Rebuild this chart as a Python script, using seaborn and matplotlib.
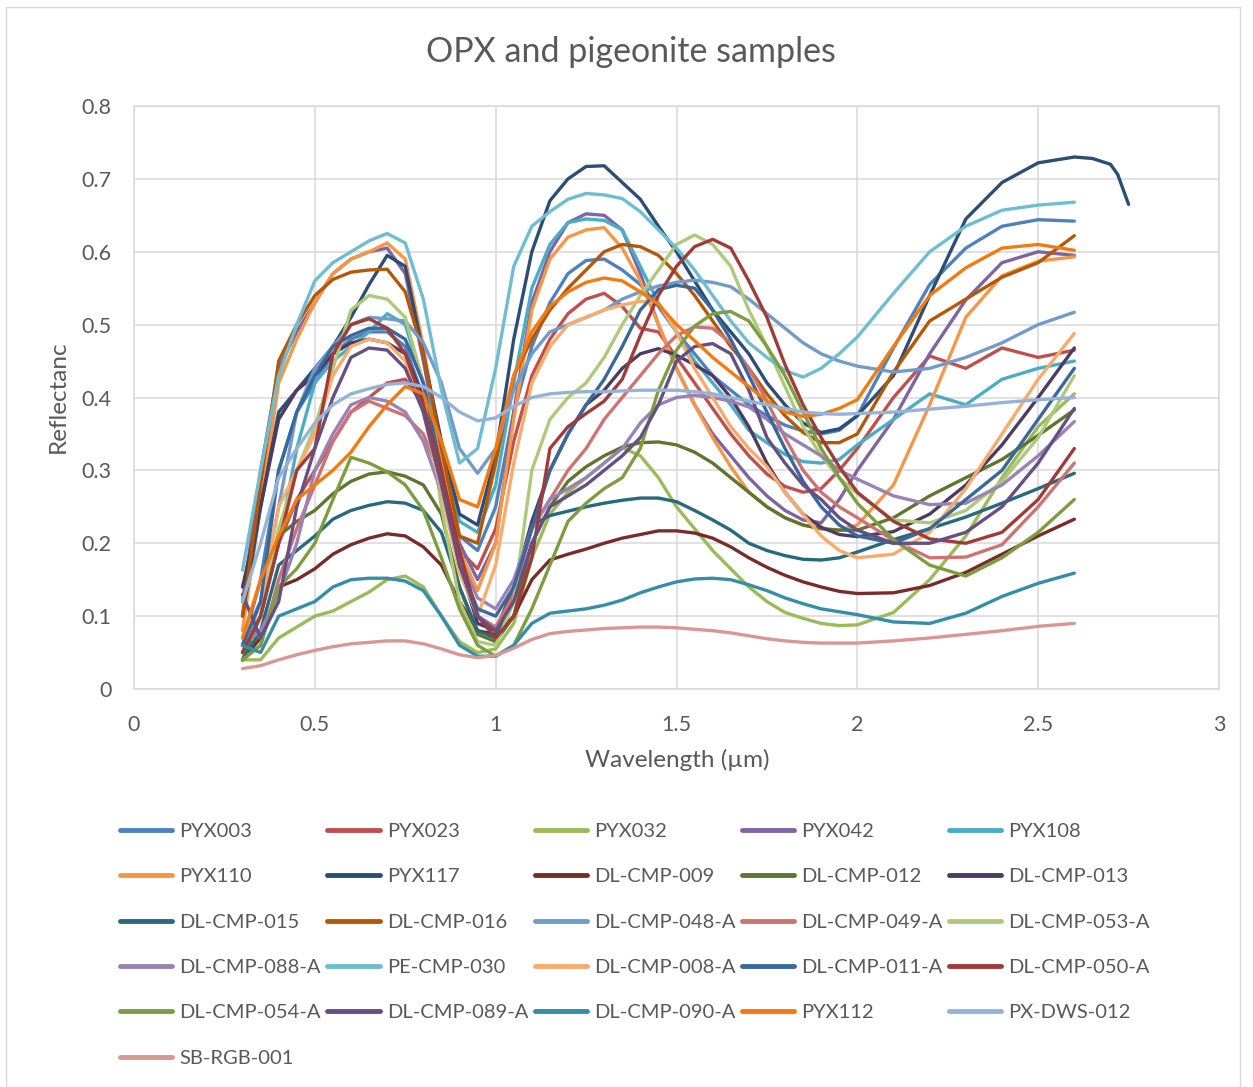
import matplotlib
matplotlib.use("Agg")
import matplotlib.pyplot as plt
import numpy as np
import pandas as pd
import seaborn as sns
from matplotlib.patches import Rectangle

# ---------------- data ----------------
wl = [0.30, 0.35, 0.40, 0.45, 0.50, 0.55, 0.60, 0.65, 0.70, 0.75,
      0.80, 0.85, 0.90, 0.95, 1.00, 1.05, 1.10, 1.15, 1.20, 1.25,
      1.30, 1.35, 1.40, 1.45, 1.50, 1.55, 1.60, 1.65, 1.70, 1.75,
      1.80, 1.85, 1.90, 1.95, 2.00, 2.10, 2.20, 2.30, 2.40, 2.50,
      2.60]
wl_pyx117 = wl + [2.65, 2.70, 2.72, 2.75]

pyx003 = [0.06, 0.15, 0.30, 0.38, 0.42, 0.46, 0.48, 0.49, 0.49, 0.47,
          0.40, 0.30, 0.21, 0.19, 0.25, 0.38, 0.47, 0.53, 0.57, 0.588,
          0.59, 0.575, 0.555, 0.525, 0.49, 0.46, 0.43, 0.41, 0.39, 0.375,
          0.362, 0.354, 0.35, 0.355, 0.375, 0.468, 0.555, 0.605, 0.635, 0.644,
          0.642]
pyx023 = [0.05, 0.10, 0.20, 0.26, 0.30, 0.34, 0.38, 0.40, 0.42, 0.425,
          0.39, 0.30, 0.19, 0.165, 0.22, 0.34, 0.43, 0.48, 0.515, 0.535,
          0.543, 0.525, 0.495, 0.49, 0.455, 0.42, 0.385, 0.35, 0.32, 0.295,
          0.278, 0.27, 0.275, 0.30, 0.33, 0.40, 0.457, 0.44, 0.468, 0.455,
          0.465]
pyx032 = [0.04, 0.04, 0.07, 0.085, 0.10, 0.107, 0.12, 0.133, 0.15, 0.155,
          0.14, 0.10, 0.065, 0.05, 0.055, 0.09, 0.18, 0.24, 0.27, 0.29,
          0.31, 0.331, 0.32, 0.29, 0.25, 0.22, 0.19, 0.165, 0.14, 0.12,
          0.105, 0.097, 0.09, 0.087, 0.088, 0.105, 0.15, 0.21, 0.29, 0.36,
          0.405]
pyx042 = [0.12, 0.30, 0.44, 0.49, 0.53, 0.57, 0.59, 0.60, 0.605, 0.57,
          0.45, 0.32, 0.20, 0.15, 0.20, 0.38, 0.53, 0.60, 0.64, 0.652,
          0.65, 0.63, 0.57, 0.50, 0.44, 0.39, 0.35, 0.32, 0.29, 0.265,
          0.245, 0.232, 0.228, 0.26, 0.30, 0.37, 0.46, 0.534, 0.585, 0.60,
          0.595]
pyx108 = [0.06, 0.10, 0.20, 0.33, 0.42, 0.45, 0.47, 0.49, 0.515, 0.50,
          0.42, 0.33, 0.23, 0.215, 0.28, 0.42, 0.55, 0.61, 0.64, 0.645,
          0.643, 0.63, 0.58, 0.53, 0.49, 0.45, 0.42, 0.39, 0.355, 0.338,
          0.322, 0.312, 0.31, 0.315, 0.335, 0.37, 0.405, 0.39, 0.425, 0.44,
          0.45]
pyx110 = [0.08, 0.25, 0.42, 0.48, 0.53, 0.57, 0.59, 0.60, 0.612, 0.59,
          0.47, 0.32, 0.19, 0.135, 0.20, 0.37, 0.52, 0.59, 0.62, 0.63,
          0.633, 0.605, 0.56, 0.50, 0.44, 0.39, 0.345, 0.305, 0.27, 0.25,
          0.235, 0.225, 0.22, 0.218, 0.225, 0.28, 0.39, 0.51, 0.567, 0.587,
          0.593]
pyx117 = [0.10, 0.25, 0.38, 0.41, 0.44, 0.47, 0.51, 0.555, 0.595, 0.58,
          0.46, 0.34, 0.24, 0.225, 0.32, 0.48, 0.60, 0.67, 0.70, 0.717,
          0.718, 0.695, 0.672, 0.635, 0.60, 0.56, 0.52, 0.49, 0.46, 0.42,
          0.39, 0.365, 0.352, 0.357, 0.375, 0.43, 0.54, 0.645, 0.695, 0.722,
          0.73, 0.728, 0.72, 0.706, 0.665]
dl_cmp_009 = [0.04, 0.07, 0.14, 0.15, 0.165, 0.185, 0.198, 0.207, 0.213, 0.21,
              0.195, 0.17, 0.12, 0.08, 0.075, 0.10, 0.15, 0.177, 0.185, 0.192,
              0.20, 0.207, 0.212, 0.217, 0.217, 0.214, 0.207, 0.195, 0.18, 0.167,
              0.156, 0.147, 0.14, 0.134, 0.131, 0.132, 0.142, 0.16, 0.185, 0.21,
              0.233]
dl_cmp_012 = [0.04, 0.10, 0.21, 0.23, 0.245, 0.268, 0.285, 0.295, 0.298, 0.292,
              0.28, 0.24, 0.14, 0.075, 0.065, 0.10, 0.20, 0.25, 0.285, 0.305,
              0.32, 0.332, 0.338, 0.339, 0.335, 0.325, 0.31, 0.29, 0.27, 0.25,
              0.235, 0.225, 0.22, 0.218, 0.218, 0.235, 0.265, 0.29, 0.315, 0.348,
              0.383]
dl_cmp_013 = [0.14, 0.25, 0.37, 0.41, 0.43, 0.46, 0.475, 0.48, 0.475, 0.46,
              0.40, 0.30, 0.17, 0.09, 0.08, 0.14, 0.23, 0.30, 0.35, 0.39,
              0.41, 0.44, 0.46, 0.467, 0.458, 0.445, 0.43, 0.40, 0.36, 0.31,
              0.27, 0.24, 0.222, 0.212, 0.209, 0.216, 0.24, 0.28, 0.335, 0.40,
              0.468]
dl_cmp_015 = [0.04, 0.08, 0.17, 0.19, 0.21, 0.233, 0.245, 0.252, 0.257, 0.255,
              0.245, 0.215, 0.14, 0.08, 0.07, 0.13, 0.225, 0.238, 0.244, 0.25,
              0.255, 0.259, 0.262, 0.262, 0.257, 0.245, 0.232, 0.218, 0.20, 0.19,
              0.183, 0.178, 0.177, 0.18, 0.188, 0.205, 0.22, 0.236, 0.255, 0.275,
              0.296]
dl_cmp_016 = [0.10, 0.28, 0.45, 0.50, 0.54, 0.562, 0.572, 0.575, 0.576, 0.545,
              0.46, 0.33, 0.21, 0.20, 0.31, 0.43, 0.48, 0.52, 0.55, 0.575,
              0.60, 0.61, 0.607, 0.595, 0.57, 0.54, 0.505, 0.47, 0.44, 0.405,
              0.375, 0.352, 0.338, 0.338, 0.35, 0.435, 0.505, 0.535, 0.565, 0.585,
              0.622]
dl_cmp_048_a = [0.05, 0.12, 0.25, 0.38, 0.44, 0.47, 0.50, 0.51, 0.508, 0.505,
                0.475, 0.42, 0.33, 0.296, 0.33, 0.41, 0.46, 0.49, 0.50, 0.51,
                0.52, 0.535, 0.545, 0.553, 0.558, 0.561, 0.558, 0.552, 0.535, 0.515,
                0.495, 0.475, 0.46, 0.45, 0.443, 0.435, 0.44, 0.455, 0.475, 0.50,
                0.517]
dl_cmp_049_a = [0.04, 0.06, 0.15, 0.22, 0.28, 0.34, 0.38, 0.395, 0.385, 0.375,
                0.35, 0.29, 0.17, 0.10, 0.085, 0.13, 0.22, 0.26, 0.30, 0.33,
                0.37, 0.40, 0.43, 0.46, 0.485, 0.497, 0.495, 0.475, 0.44, 0.395,
                0.345, 0.30, 0.27, 0.25, 0.235, 0.204, 0.18, 0.181, 0.198, 0.25,
                0.31]
dl_cmp_053_a = [0.05, 0.10, 0.22, 0.30, 0.36, 0.44, 0.52, 0.54, 0.535, 0.51,
                0.42, 0.25, 0.12, 0.065, 0.06, 0.12, 0.30, 0.37, 0.40, 0.42,
                0.455, 0.50, 0.54, 0.575, 0.61, 0.623, 0.61, 0.58, 0.52, 0.47,
                0.415, 0.36, 0.32, 0.29, 0.268, 0.232, 0.228, 0.245, 0.285, 0.345,
                0.43]
dl_cmp_088_a = [0.06, 0.08, 0.13, 0.20, 0.30, 0.35, 0.39, 0.40, 0.395, 0.38,
                0.34, 0.27, 0.18, 0.125, 0.11, 0.15, 0.22, 0.26, 0.275, 0.29,
                0.31, 0.33, 0.365, 0.39, 0.40, 0.403, 0.40, 0.395, 0.387, 0.37,
                0.35, 0.335, 0.32, 0.30, 0.288, 0.265, 0.253, 0.255, 0.28, 0.32,
                0.367]
pe_cmp_030 = [0.163, 0.30, 0.43, 0.50, 0.56, 0.585, 0.60, 0.615, 0.625, 0.612,
              0.535, 0.41, 0.31, 0.33, 0.44, 0.58, 0.635, 0.655, 0.672, 0.68,
              0.678, 0.673, 0.655, 0.63, 0.605, 0.575, 0.54, 0.505, 0.475, 0.455,
              0.437, 0.428, 0.44, 0.46, 0.483, 0.543, 0.60, 0.635, 0.657, 0.664,
              0.668]
dl_cmp_008_a = [0.07, 0.12, 0.25, 0.30, 0.35, 0.43, 0.47, 0.48, 0.475, 0.45,
                0.38, 0.27, 0.16, 0.10, 0.17, 0.31, 0.42, 0.47, 0.50, 0.51,
                0.52, 0.527, 0.532, 0.53, 0.49, 0.44, 0.40, 0.36, 0.33, 0.305,
                0.27, 0.24, 0.21, 0.19, 0.18, 0.185, 0.215, 0.275, 0.35, 0.425,
                0.488]
dl_cmp_011_a = [0.06, 0.12, 0.30, 0.38, 0.43, 0.47, 0.485, 0.495, 0.495, 0.48,
                0.42, 0.30, 0.17, 0.11, 0.10, 0.14, 0.22, 0.30, 0.35, 0.39,
                0.425, 0.47, 0.52, 0.548, 0.554, 0.55, 0.52, 0.48, 0.43, 0.38,
                0.33, 0.285, 0.25, 0.225, 0.21, 0.20, 0.22, 0.26, 0.30, 0.37,
                0.44]
dl_cmp_050_a = [0.05, 0.10, 0.20, 0.30, 0.33, 0.46, 0.50, 0.508, 0.495, 0.46,
                0.39, 0.30, 0.19, 0.10, 0.07, 0.10, 0.18, 0.33, 0.36, 0.378,
                0.395, 0.425, 0.485, 0.54, 0.58, 0.607, 0.617, 0.605, 0.56, 0.51,
                0.445, 0.39, 0.345, 0.305, 0.27, 0.23, 0.206, 0.20, 0.215, 0.26,
                0.33]
dl_cmp_054_a = [0.04, 0.06, 0.14, 0.165, 0.20, 0.26, 0.318, 0.31, 0.298, 0.28,
                0.245, 0.18, 0.11, 0.06, 0.045, 0.06, 0.11, 0.17, 0.23, 0.255,
                0.275, 0.29, 0.33, 0.41, 0.465, 0.498, 0.515, 0.518, 0.505, 0.47,
                0.43, 0.38, 0.33, 0.29, 0.255, 0.205, 0.17, 0.155, 0.18, 0.215,
                0.26]
dl_cmp_089_a = [0.13, 0.07, 0.12, 0.25, 0.33, 0.40, 0.455, 0.468, 0.465, 0.44,
                0.38, 0.28, 0.17, 0.10, 0.08, 0.12, 0.20, 0.25, 0.265, 0.28,
                0.30, 0.32, 0.345, 0.39, 0.45, 0.47, 0.474, 0.46, 0.41, 0.345,
                0.31, 0.28, 0.26, 0.235, 0.218, 0.20, 0.20, 0.215, 0.25, 0.31,
                0.385]
dl_cmp_090_a = [0.06, 0.05, 0.10, 0.11, 0.12, 0.14, 0.15, 0.152, 0.152, 0.148,
                0.135, 0.10, 0.06, 0.045, 0.045, 0.06, 0.09, 0.104, 0.107, 0.11,
                0.115, 0.122, 0.132, 0.14, 0.147, 0.151, 0.152, 0.15, 0.143, 0.135,
                0.125, 0.117, 0.11, 0.106, 0.102, 0.092, 0.09, 0.104, 0.127, 0.145,
                0.159]
pyx112 = [0.07, 0.15, 0.21, 0.26, 0.28, 0.30, 0.325, 0.36, 0.39, 0.415,
          0.405, 0.34, 0.26, 0.25, 0.33, 0.43, 0.49, 0.525, 0.545, 0.558,
          0.564, 0.56, 0.545, 0.528, 0.50, 0.478, 0.455, 0.435, 0.415, 0.395,
          0.38, 0.374, 0.377, 0.385, 0.397, 0.47, 0.54, 0.578, 0.605, 0.61,
          0.602]
px_dws_012 = [0.12, 0.20, 0.29, 0.33, 0.365, 0.39, 0.405, 0.412, 0.418, 0.42,
              0.415, 0.40, 0.38, 0.368, 0.372, 0.388, 0.40, 0.405, 0.407, 0.408,
              0.408, 0.409, 0.41, 0.41, 0.41, 0.408, 0.405, 0.40, 0.395, 0.39,
              0.385, 0.38, 0.378, 0.377, 0.378, 0.38, 0.384, 0.388, 0.393, 0.397,
              0.40]
sb_rgb_001 = [0.028, 0.032, 0.04, 0.047, 0.053, 0.058, 0.062, 0.064, 0.066, 0.066,
              0.062, 0.055, 0.047, 0.043, 0.046, 0.056, 0.068, 0.076, 0.079, 0.081,
              0.083, 0.084, 0.085, 0.085, 0.084, 0.082, 0.08, 0.077, 0.073, 0.069,
              0.066, 0.064, 0.063, 0.063, 0.063, 0.066, 0.07, 0.075, 0.08, 0.086,
              0.09]

names = ["PYX003", "PYX023", "PYX032", "PYX042", "PYX108",
         "PYX110", "PYX117", "DL-CMP-009", "DL-CMP-012", "DL-CMP-013",
         "DL-CMP-015", "DL-CMP-016", "DL-CMP-048-A", "DL-CMP-049-A", "DL-CMP-053-A",
         "DL-CMP-088-A", "PE-CMP-030", "DL-CMP-008-A", "DL-CMP-011-A", "DL-CMP-050-A",
         "DL-CMP-054-A", "DL-CMP-089-A", "DL-CMP-090-A", "PYX112", "PX-DWS-012",
         "SB-RGB-001"]
values = [pyx003, pyx023, pyx032, pyx042, pyx108,
          pyx110, pyx117, dl_cmp_009, dl_cmp_012, dl_cmp_013,
          dl_cmp_015, dl_cmp_016, dl_cmp_048_a, dl_cmp_049_a, dl_cmp_053_a,
          dl_cmp_088_a, pe_cmp_030, dl_cmp_008_a, dl_cmp_011_a, dl_cmp_050_a,
          dl_cmp_054_a, dl_cmp_089_a, dl_cmp_090_a, pyx112, px_dws_012,
          sb_rgb_001]
colors = ["#4F81BD", "#C0504D", "#9BBB59", "#8064A2", "#4BACC6",
          "#F79646", "#2C4D75", "#772C2A", "#5F7530", "#4D3B62",
          "#276A7C", "#B65708", "#729ACA", "#CD7371", "#AFC97A",
          "#9983B5", "#6FBDD1", "#F9AB6B", "#3A679C", "#9F3B38",
          "#7E9D40", "#664F83", "#358EA7", "#F47A10", "#95B3D7",
          "#D99694"]

x_ticks = [0, 0.5, 1, 1.5, 2, 2.5, 3]
y_ticks = [0, 0.1, 0.2, 0.3, 0.4, 0.5, 0.6, 0.7, 0.8]

# ---------------- build long table ----------------
frames = []
for name, vals in zip(names, values):
    xs = wl_pyx117 if name == "PYX117" else wl
    frames.append(pd.DataFrame({"wl": xs, "refl": vals, "sample": name}))
df = pd.concat(frames, ignore_index=True)

# ---------------- plot ----------------
sns.set_style("white")
plt.rcParams["font.family"] = ["Lato", "DejaVu Sans"]
text_col = "#595959"
grid_col = "#D9D9D9"

W, H = 1253, 1087
fig = plt.figure(figsize=(W / 100, H / 100), dpi=100)
ax = fig.add_axes([134 / W, 1 - 689 / H, (1219 - 134) / W, (689 - 106) / H])

sns.lineplot(data=df, x="wl", y="refl", hue="sample", hue_order=names,
             palette=dict(zip(names, colors)), estimator=None, sort=False,
             linewidth=2.4, ax=ax, legend=True)
handles, labels = ax.get_legend_handles_labels()
ax.get_legend().remove()

ax.set_xlim(0, 3)
ax.set_ylim(0, 0.8)
ax.set_xticks(x_ticks)
ax.set_xticklabels([f"{v:g}" for v in x_ticks])
ax.set_yticks(y_ticks)
ax.set_yticklabels([f"{v:g}" for v in y_ticks])
ax.tick_params(axis="y", length=0, pad=16, labelsize=15.5, labelcolor=text_col)
ax.tick_params(axis="x", length=0, pad=19, labelsize=15.5, labelcolor=text_col)
ax.grid(True, color=grid_col, linewidth=1.1)
ax.set_axisbelow(True)
for s in ax.spines.values():
    s.set_color(grid_col)
    s.set_linewidth(1.1)
ax.set_xlabel("")
ax.set_ylabel("")

fig.text(631 / W, 1 - 52 / H, "OPX and pigeonite samples", ha="center",
         va="center", fontsize=24.5, color=text_col)
fig.text(58 / W, 1 - 397 / H, "Reflectanc", ha="center", va="center",
         rotation=90, fontsize=17.5, color=text_col)
fig.text(677 / W, 1 - 760 / H, "Wavelength (µm)", ha="center", va="center",
         fontsize=17.5, color=text_col)

# legend filled row by row (5 columns), as in the reference
ncol = 5
nrow = -(-len(labels) // ncol)
order = [r * ncol + c for c in range(ncol) for r in range(nrow)
         if r * ncol + c < len(labels)]
leg = fig.legend([handles[i] for i in order], [labels[i] for i in order],
                 loc="upper left",
                 bbox_to_anchor=(120 / W, 0.0, 1030 / W, 1 - 823 / H),
                 mode="expand", ncol=ncol, frameon=False, fontsize=14.5,
                 handlelength=2.6, handletextpad=0.35, labelspacing=1.4,
                 borderaxespad=0, borderpad=0, columnspacing=0.5)
for t in leg.get_texts():
    t.set_color(text_col)
for h in leg.legend_handles:
    h.set_linewidth(3.5)

fig.patches.append(Rectangle((6 / W, 0.0), (1240 - 6) / W, 1 - 7 / H,
                             transform=fig.transFigure, fill=False,
                             edgecolor=grid_col, linewidth=1.0))

fig.savefig("out.png", dpi=100)
